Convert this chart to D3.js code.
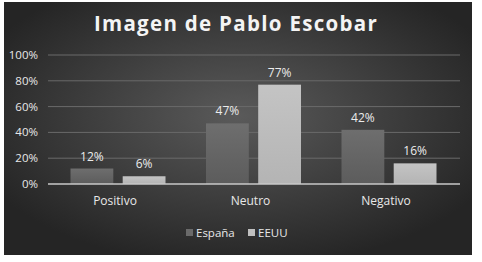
<!DOCTYPE html>
<html>
<head>
<meta charset="utf-8">
<script src="https://cdn.jsdelivr.net/npm/d3@7"></script>
<style>
  body { margin: 0; background: #fff; }
  text { font-family: "Open Sans", "DejaVu Sans", sans-serif; }
</style>
</head>
<body>
<svg id="chart" width="482" height="262"></svg>
<script>
// Chart data
const categories = ['Positivo', 'Neutro', 'Negativo'];
const seriesNames = ['España', 'EEUU'];
const espana = [12, 47, 42];
const eeuu = [6, 77, 16];
const yTicks = [0, 20, 40, 60, 80, 100];

const svg = d3.select('#chart');

// background gradient
const defs = svg.append('defs');
const bg = defs.append('radialGradient')
    .attr('id', 'bg')
    .attr('cx', '50%').attr('cy', '45%').attr('r', '60%');
bg.append('stop').attr('offset', '0%').attr('stop-color', '#5a5a5a');
bg.append('stop').attr('offset', '100%').attr('stop-color', '#252525');

const gEs = defs.append('linearGradient')
    .attr('id', 'gEs').attr('x1', 0).attr('x2', 0).attr('y1', 0).attr('y2', 1);
gEs.append('stop').attr('offset', '0%').attr('stop-color', '#6e6e6e');
gEs.append('stop').attr('offset', '100%').attr('stop-color', '#5c5c5c');

const gUs = defs.append('linearGradient')
    .attr('id', 'gUs').attr('x1', 0).attr('x2', 0).attr('y1', 0).attr('y2', 1);
gUs.append('stop').attr('offset', '0%').attr('stop-color', '#c4c4c4');
gUs.append('stop').attr('offset', '100%').attr('stop-color', '#b4b4b4');

svg.append('rect')
    .attr('x', 4).attr('y', 2)
    .attr('width', 468).attr('height', 253)
    .attr('fill', 'url(#bg)');

// title
svg.append('text')
    .attr('x', 236).attr('y', 31)
    .attr('text-anchor', 'middle')
    .attr('fill', '#f4f4f4')
    .attr('font-size', 20.5)
    .attr('font-weight', 'bold')
    .attr('letter-spacing', 1.3)
    .text('Imagen de Pablo Escobar');

// scales
const plot = { left: 48, right: 460, top: 55, bottom: 184 };

const y = d3.scaleLinear()
    .domain([0, 100])
    .range([plot.bottom, plot.top]);

const x0 = d3.scaleBand()
    .domain(categories)
    .range([50.25, 456.75]);

const pairW = 95;
const x1 = d3.scaleBand()
    .domain(seriesNames)
    .range([0, pairW])
    .paddingInner(0.18);

const barX = (c, s) => x0(c) + (x0.bandwidth() - pairW) / 2 + x1(s);

// gridlines
svg.append('g')
    .selectAll('line')
    .data(yTicks.filter(d => d > 0))
    .enter().append('line')
    .attr('x1', plot.left).attr('x2', plot.right)
    .attr('y1', d => y(d)).attr('y2', d => y(d))
    .attr('stroke', '#6a6a6a')
    .attr('stroke-width', 1);

// y labels
svg.append('g')
    .selectAll('text')
    .data(yTicks)
    .enter().append('text')
    .attr('x', 38)
    .attr('y', d => y(d) + 4)
    .attr('text-anchor', 'end')
    .attr('fill', '#e8e8e8')
    .attr('font-size', 11.5)
    .text(d => d + '%');

// bars
const values = [espana, eeuu];
const fills = ['url(#gEs)', 'url(#gUs)'];

seriesNames.forEach((s, si) => {
    const g = svg.append('g');
    g.selectAll('rect')
        .data(categories)
        .enter().append('rect')
        .attr('x', c => barX(c, s))
        .attr('y', (c, i) => y(values[si][i]))
        .attr('width', x1.bandwidth())
        .attr('height', (c, i) => plot.bottom - y(values[si][i]))
        .attr('fill', fills[si]);

    g.selectAll('text')
        .data(categories)
        .enter().append('text')
        .attr('x', c => barX(c, s) + x1.bandwidth() / 2)
        .attr('y', (c, i) => y(values[si][i]) - 8)
        .attr('text-anchor', 'middle')
        .attr('fill', '#ececec')
        .attr('font-size', 12)
        .text((c, i) => values[si][i] + '%');
});

// baseline
svg.append('line')
    .attr('x1', plot.left).attr('x2', plot.right)
    .attr('y1', plot.bottom).attr('y2', plot.bottom)
    .attr('stroke', '#c8c8c8')
    .attr('stroke-width', 1.5);

// category labels
svg.append('g')
    .selectAll('text')
    .data(categories)
    .enter().append('text')
    .attr('x', c => x0(c) + x0.bandwidth() / 2 - 3)
    .attr('y', 205)
    .attr('text-anchor', 'middle')
    .attr('fill', '#e8e8e8')
    .attr('font-size', 12)
    .text(c => c);

// legend
const legendX = [186, 248];
const legendFill = ['#6a6a6a', '#c0c0c0'];
const lg = svg.append('g');
seriesNames.forEach((s, i) => {
    lg.append('rect')
        .attr('x', legendX[i]).attr('y', 229)
        .attr('width', 7).attr('height', 7)
        .attr('fill', legendFill[i]);
    lg.append('text')
        .attr('x', legendX[i] + 10).attr('y', 237)
        .attr('fill', '#e8e8e8')
        .attr('font-size', 11.5)
        .text(s);
});
</script>
</body>
</html>
